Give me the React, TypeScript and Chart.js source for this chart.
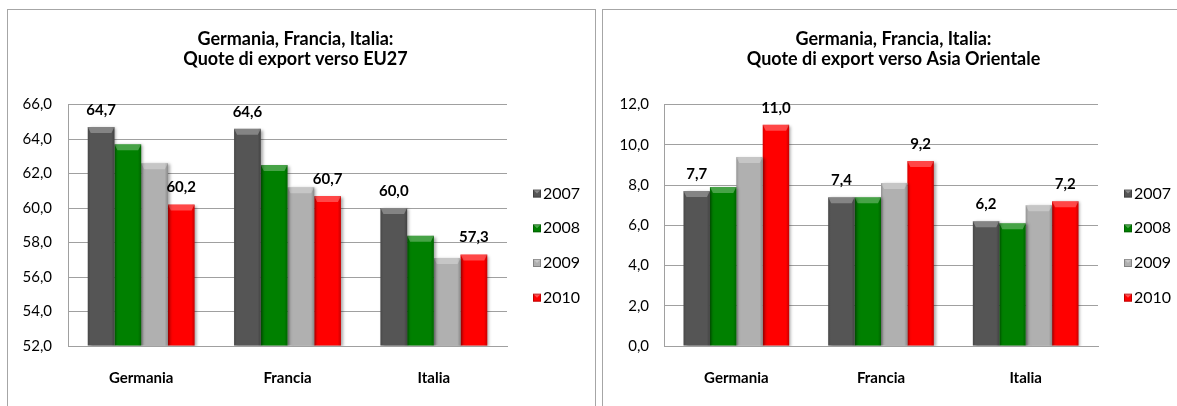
import React, { useEffect, useRef } from 'react';
import { Chart, registerables } from 'chart.js';

Chart.register(...registerables);

// ---------- DATA ----------
const categories = ['Germania', 'Francia', 'Italia'];
const years = ['2007', '2008', '2009', '2010'];
const seriesColors = ['#555555', '#008000', '#b0b0b0', '#ff0000'];
const labeledYears = ['2007', '2010'];

const eu27_2007 = [64.7, 64.6, 60.0];
const eu27_2008 = [63.7, 62.5, 58.4];
const eu27_2009 = [62.6, 61.2, 57.1];
const eu27_2010 = [60.2, 60.7, 57.3];

const asia_2007 = [7.7, 7.4, 6.2];
const asia_2008 = [7.9, 7.4, 6.1];
const asia_2009 = [9.4, 8.1, 7.0];
const asia_2010 = [11.0, 9.2, 7.2];

const euTitle = ['Germania, Francia, Italia:', 'Quote di export verso EU27'];
const asiaTitle = ['Germania, Francia, Italia:', 'Quote di export verso Asia Orientale'];

const euAxis = { min: 52, max: 66, step: 2 };
const asiaAxis = { min: 0, max: 12, step: 2 };

// ---------- STYLE ----------
const FONT = 'Lato, "Open Sans", sans-serif';
const GRID = '#a0a0a0';

const fmt = (v: number) => v.toFixed(1).replace('.', ',');

const bar3dPlugin = {
  id: 'bar3d',
  beforeDatasetDraw(chart: any) {
    const ctx = chart.ctx;
    const a = chart.chartArea;
    ctx.save();
    ctx.beginPath();
    ctx.rect(a.left, a.top - 20, a.right - a.left + 10, a.bottom - a.top + 20);
    ctx.clip();
    ctx.shadowColor = 'rgba(0,0,0,0.35)';
    ctx.shadowBlur = 3;
    ctx.shadowOffsetX = 2;
    ctx.shadowOffsetY = 1;
  },
  afterDatasetDraw(chart: any, args: any) {
    const ctx = chart.ctx;
    ctx.restore();
    const a = chart.chartArea;
    const meta = args.meta;
    ctx.save();
    ctx.beginPath();
    ctx.rect(a.left, a.top - 20, a.right - a.left, a.bottom - a.top + 20);
    ctx.clip();
    meta.data.forEach((el: any) => {
      const { x, y, base, width } = el.getProps(['x', 'y', 'base', 'width'], true);
      const l = x - width / 2;
      const r = x + width / 2;
      const b = Math.min(base, a.bottom);
      const h = b - y;
      const g = ctx.createLinearGradient(l, 0, r, 0);
      g.addColorStop(0, 'rgba(0,0,0,0.16)');
      g.addColorStop(0.1, 'rgba(0,0,0,0)');
      g.addColorStop(0.88, 'rgba(0,0,0,0)');
      g.addColorStop(1, 'rgba(0,0,0,0.22)');
      ctx.fillStyle = g;
      ctx.fillRect(l, y, width, h);
      const cap = Math.min(6, h);
      ctx.beginPath();
      ctx.moveTo(l, y);
      ctx.lineTo(r, y);
      ctx.lineTo(r - 3, y + cap);
      ctx.lineTo(l + 3, y + cap);
      ctx.closePath();
      ctx.fillStyle = 'rgba(255,255,255,0.28)';
      ctx.fill();
    });
    ctx.restore();
  },
  afterDatasetsDraw(chart: any) {
    const ctx = chart.ctx;
    ctx.save();
    ctx.font = `bold 15px ${FONT}`;
    ctx.fillStyle = '#000';
    ctx.textAlign = 'center';
    ctx.textBaseline = 'middle';
    chart.data.datasets.forEach((ds: any, i: number) => {
      if (!labeledYears.includes(ds.label)) return;
      const meta = chart.getDatasetMeta(i);
      meta.data.forEach((el: any, j: number) => {
        ctx.fillText(fmt(ds.data[j]), el.x, el.y - 17);
      });
    });
    ctx.restore();
  },
};

const legendPlugin = {
  id: 'sideLegend',
  afterDraw(chart: any) {
    const ctx = chart.ctx;
    const area = chart.chartArea;
    const x0 = area.right + 26;
    ctx.save();
    chart.data.datasets.forEach((ds: any, i: number) => {
      const cy = area.top + 89 + i * 34.7;
      ctx.fillStyle = ds.backgroundColor;
      ctx.fillRect(x0, cy - 4, 8, 8);
      ctx.beginPath();
      ctx.moveTo(x0, cy - 4);
      ctx.lineTo(x0 + 8, cy - 4);
      ctx.lineTo(x0 + 4, cy);
      ctx.closePath();
      ctx.fillStyle = 'rgba(255,255,255,0.3)';
      ctx.fill();
      ctx.strokeStyle = 'rgba(0,0,0,0.25)';
      ctx.lineWidth = 1;
      ctx.strokeRect(x0 + 0.5, cy - 3.5, 7, 7);
      ctx.fillStyle = '#000';
      ctx.font = `16px ${FONT}`;
      ctx.textAlign = 'left';
      ctx.textBaseline = 'middle';
      ctx.fillText(ds.label, x0 + 10, cy);
    });
    ctx.restore();
  },
};

type PanelProps = {
  left: number;
  width: number;
  title: string[];
  series: number[][];
  axis: { min: number; max: number; step: number };
  yAxisWidth: number;
  tickPad: number;
  legendWidth: number;
  padRight: number;
};

function ChartPanel({ left, width, title, series, axis, yAxisWidth, tickPad, legendWidth, padRight }: PanelProps) {
  const ref = useRef<HTMLCanvasElement | null>(null);
  const cw = width - 2;
  const ch = 396;
  useEffect(() => {
    if (!ref.current) return;
    const chart = new Chart(ref.current, {
      type: 'bar',
      data: {
        labels: categories,
        datasets: years.map((y, i) => ({
          label: y,
          data: series[i],
          backgroundColor: seriesColors[i],
          borderWidth: 0,
          base: axis.min,
          categoryPercentage: 0.73,
          barPercentage: 1,
        })),
      },
      options: {
        responsive: false,
        animation: false,
        devicePixelRatio: 1,
        layout: { padding: { left: 0, top: 0, bottom: 0, right: padRight } },
        plugins: {
          legend: { display: false },
          tooltip: { enabled: false },
          title: {
            display: true,
            text: title,
            color: '#000',
            font: { family: FONT, size: 18, weight: 'bold', lineHeight: 1.1 },
            padding: { top: 19, bottom: 36 },
          },
        },
        scales: {
          x: {
            grid: { display: false, drawTicks: false },
            border: { display: true, color: GRID },
            ticks: { color: '#000', font: { family: FONT, size: 15, weight: 'bold' }, padding: 23 },
            afterFit: (s: any) => {
              s.height = 60;
            },
          },
          y: {
            min: axis.min,
            max: axis.max,
            ticks: {
              stepSize: axis.step,
              color: '#000',
              font: { family: FONT, size: 15 },
              padding: tickPad,
              callback: (v: any) => fmt(Number(v)),
            },
            grid: { color: GRID, drawTicks: false },
            border: { display: true, color: GRID },
            afterFit: (s: any) => {
              s.width = yAxisWidth;
            },
          },
          yLegend: {
            type: 'linear',
            position: 'right',
            display: true,
            grid: { display: false, drawTicks: false },
            border: { display: false },
            ticks: { display: false },
            afterFit: (s: any) => {
              s.width = legendWidth;
            },
          },
        },
      } as any,
      plugins: [bar3dPlugin, legendPlugin],
    });
    return () => chart.destroy();
  }, []);
  return (
    <div
      style={{
        position: 'absolute',
        left,
        top: 9,
        width,
        height: 420,
        border: '1px solid #a6a6a6',
        boxSizing: 'border-box',
        overflow: 'hidden',
        background: '#fff',
      }}
    >
      <canvas ref={ref} width={cw} height={ch} style={{ display: 'block', width: cw, height: ch }} />
    </div>
  );
}

export default function App() {
  return (
    <div style={{ position: 'fixed', inset: 0, overflow: 'hidden', background: '#fff' }}>
      <ChartPanel
        left={7}
        width={589}
        title={euTitle}
        series={[eu27_2007, eu27_2008, eu27_2009, eu27_2010]}
        axis={euAxis}
        yAxisWidth={60}
        tickPad={16}
        legendWidth={76}
        padRight={12}
      />
      <ChartPanel
        left={602}
        width={583}
        title={asiaTitle}
        series={[asia_2007, asia_2008, asia_2009, asia_2010]}
        axis={asiaAxis}
        yAxisWidth={61}
        tickPad={15}
        legendWidth={86}
        padRight={0}
      />
    </div>
  );
}
